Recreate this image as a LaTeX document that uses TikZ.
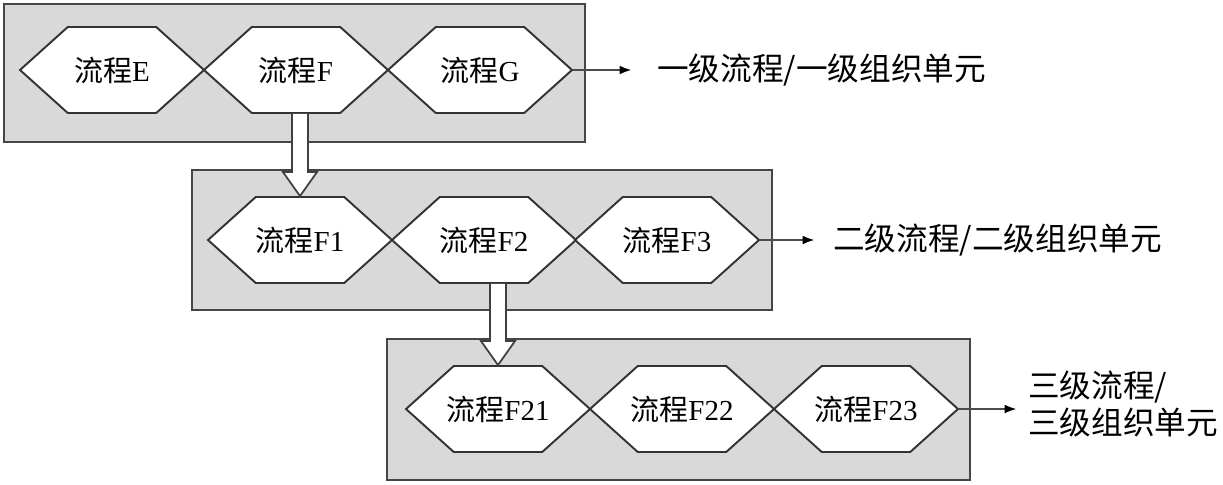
\documentclass[tikz,border=0pt]{standalone}
\usepackage{fontspec}
\setmainfont{Liberation Serif}
\newfontfamily\cjk{Noto Sans CJK SC}
\usepackage{tikz}
\usetikzlibrary{arrows.meta,calc,shapes.symbols}

\newcommand\lc{{\cjk 流程}}

\begin{document}
\begin{tikzpicture}[x=0.02cm,y=-0.02cm,
    panel/.style={fill=gray!30,draw=gray!55!black,line width=1.4pt},
    stage/.style={shape=signal,signal to=east and west,signal pointer angle=84,
        draw=gray!40!black,line width=1.1pt,fill=white,inner ysep=0pt,inner xsep=-8pt,
        minimum width=3.68cm,minimum height=1.72cm,font=\fontsize{16.5}{18}\selectfont},
    flow/.style={draw=gray!60!black,line width=1.3pt,-{Latex[length=7pt,width=5pt,color=black]}},
    down/.style={draw=gray!50!black,fill=white,line width=1pt},
    tag/.style={anchor=west,inner sep=0pt,align=left,font=\cjk\fontsize{18}{21.5}\selectfont}
]
\useasboundingbox (0,0) rectangle (1223,484);

% panels
\draw[panel] (4,4) rectangle (585,142);
\draw[panel] (192,170) rectangle (772,310);
\draw[panel] (387,339) rectangle (970,480);

% level 1
\node[stage] (E) at (112,70) {\lc E};
\node[stage] (F) at (296,70) {\lc F};
\node[stage] (G) at (480,70) {\lc G};

% level 2
\node[stage] (F1) at (300,240) {\lc F1};
\node[stage] (F2) at (484,240) {\lc F2};
\node[stage] (F3) at (667,240) {\lc F3};

% level 3
\node[stage] (F21) at (498,409) {\lc F21};
\node[stage] (F22) at (682,409) {\lc F22};
\node[stage] (F23) at (866,409) {\lc F23};

% labels
\node[tag] (L1) at (657,70) {一级流程/一级组织单元};
\node[tag] (L2) at (833,240) {二级流程/二级组织单元};
\node[tag] (L3) at (1028,404) {三级流程/\\三级组织单元};

\coordinate (t1) at (632,70);
\coordinate (t2) at (815,240);
\coordinate (t3) at (1017,409);
\draw[flow] (G.east) -- (t1);
\draw[flow] (F3.east) -- (t2);
\draw[flow] (F23.east) -- (t3);

% drill-down arrows
\draw[down] ($(F.south -| F1.north)+(-8,0)$) -- ($(F1.north)+(-8,-24)$)
    -- ($(F1.north)+(-17,-24)$) -- (F1.north) -- ($(F1.north)+(17,-24)$)
    -- ($(F1.north)+(8,-24)$) -- ($(F.south -| F1.north)+(8,0)$);
\draw[down] ($(F2.south -| F21.north)+(-8,0)$) -- ($(F21.north)+(-8,-24)$)
    -- ($(F21.north)+(-17,-24)$) -- (F21.north) -- ($(F21.north)+(17,-24)$)
    -- ($(F21.north)+(8,-24)$) -- ($(F2.south -| F21.north)+(8,0)$);
\end{tikzpicture}
\end{document}
